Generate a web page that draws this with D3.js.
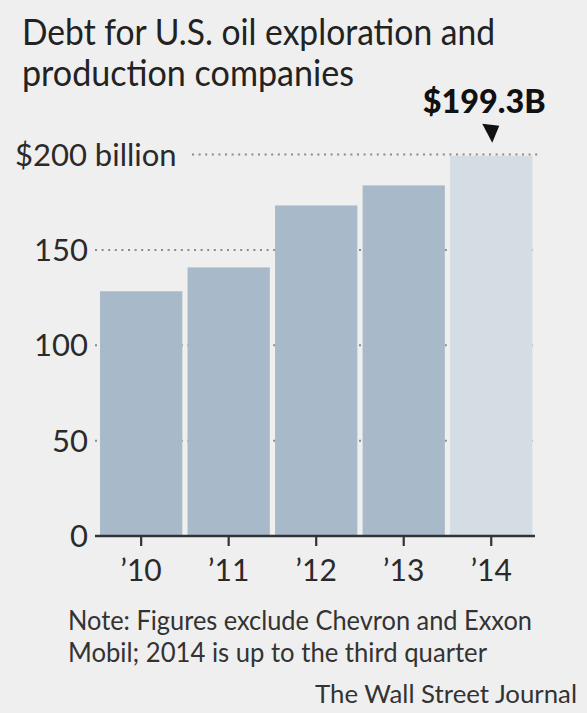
<!DOCTYPE html>
<html>
<head>
<meta charset="utf-8">
<script src="https://cdn.jsdelivr.net/npm/d3@7"></script>
<style>
  html, body { margin: 0; padding: 0; background: #efefef; }
  svg { display: block; }
  text { font-family: Lato, "Liberation Sans", sans-serif; }
</style>
</head>
<body>
<svg id="chart" width="587" height="713"></svg>
<script>
// Debt for U.S. oil exploration and production companies, $ billions
const years = ["’10", "’11", "’12", "’13", "’14"];
const debt = [128.3, 140.8, 173.3, 183.8, 199.3];
const yTicks = [0, 50, 100, 150, 200];
const yTickLabels = ["0", "50", "100", "150", "$200 billion"];
const highlightLabel = "$199.3B";
const titleLines = ["Debt for U.S. oil exploration and", "production companies"];
const noteLines = ["Note: Figures exclude Chevron and Exxon", "Mobil; 2014 is up to the third quarter"];
const source = "The Wall Street Journal";

const svg = d3.select("#chart");
const W = 587, H = 713;

svg.append("rect").attr("width", W).attr("height", H).attr("fill", "#efefef");

const x = d3.scaleBand()
  .domain(years)
  .range([97.4, 535])
  .paddingInner(0.06)
  .paddingOuter(0.03);

const y = d3.scaleLinear().domain([0, 200]).range([536, 154.5]);

// Title
const titleW = [473, 332];
svg.selectAll("text.title")
  .data(titleLines)
  .join("text")
  .attr("class", "title")
  .attr("x", 22)
  .attr("y", (d, i) => 45 + i * 41)
  .attr("font-size", 36)
  .attr("fill", "#222")
  .attr("textLength", (d, i) => titleW[i])
  .attr("lengthAdjust", "spacingAndGlyphs")
  .text(d => d);

// Dotted gridlines (behind bars)
svg.append("g")
  .selectAll("line")
  .data(yTicks.filter(t => t > 0))
  .join("line")
  .attr("x1", d => d === 200 ? 192 : 95)
  .attr("x2", d => d === 200 ? 540 : 534)
  .attr("y1", d => y(d))
  .attr("y2", d => y(d))
  .attr("stroke", "#8a8a8a")
  .attr("stroke-width", 2)
  .attr("stroke-dasharray", "2,4.6");

// Bars
svg.append("g")
  .selectAll("rect")
  .data(debt)
  .join("rect")
  .attr("x", (d, i) => x(years[i]))
  .attr("width", x.bandwidth())
  .attr("y", d => y(d))
  .attr("height", d => y(0) - y(d))
  .attr("fill", (d, i) => i === years.length - 1 ? "#d4dce4" : "#a8b9ca");

// Y tick labels
svg.append("g")
  .selectAll("text")
  .data(yTicks)
  .join("text")
  .attr("x", d => d === 200 ? 15 : 88)
  .attr("y", d => y(d) + 11)
  .attr("text-anchor", d => d === 200 ? "start" : "end")
  .attr("font-size", 31)
  .attr("fill", "#2a2a2a")
  .text((d, i) => yTickLabels[i]);

// X axis
const xAxis = d3.axisBottom(x).tickSize(10).tickPadding(14).tickSizeOuter(0);
const gx = svg.append("g").attr("transform", `translate(0,${y(0)})`).call(xAxis);
gx.select(".domain").attr("stroke", "#333").attr("stroke-width", 2.5)
  .attr("d", `M95,0H535`);
gx.selectAll(".tick line").attr("stroke", "#333").attr("stroke-width", 2.2);
gx.selectAll(".tick text")
  .attr("font-size", 30)
  .attr("fill", "#2a2a2a")
  .attr("font-family", "Lato, sans-serif")
  .attr("dy", "0.71em");

// Highlight label for latest value
const last = years.length - 1;
const cx = x(years[last]) + x.bandwidth() / 2;
const yv = y(debt[last]);
svg.append("text")
  .attr("x", cx - 7)
  .attr("y", yv - 43)
  .attr("text-anchor", "middle")
  .attr("font-size", 32)
  .attr("font-weight", 900)
  .attr("fill", "#111")
  .attr("textLength", 123)
  .attr("lengthAdjust", "spacingAndGlyphs")
  .text(highlightLabel);
svg.append("path")
  .attr("d", `M${cx - 9},${yv - 32}L${cx + 8},${yv - 30}L${cx + 1},${yv - 13}Z`)
  .attr("fill", "#111");

// Note and source
const noteW = [464, 419];
svg.selectAll("text.note")
  .data(noteLines)
  .join("text")
  .attr("class", "note")
  .attr("x", 68)
  .attr("y", (d, i) => 630 + i * 32)
  .attr("font-size", 27)
  .attr("fill", "#333")
  .attr("textLength", (d, i) => noteW[i])
  .attr("lengthAdjust", "spacingAndGlyphs")
  .text(d => d);

svg.append("text")
  .attr("x", 577)
  .attr("y", 703)
  .attr("text-anchor", "end")
  .attr("font-size", 25)
  .attr("fill", "#333")
  .attr("textLength", 262)
  .attr("lengthAdjust", "spacingAndGlyphs")
  .text(source);
</script>
</body>
</html>
